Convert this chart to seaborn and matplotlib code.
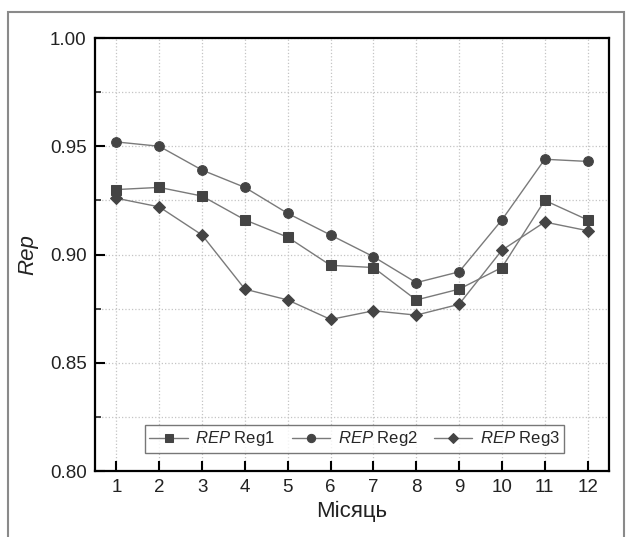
import matplotlib
matplotlib.use("Agg")
import matplotlib.pyplot as plt
from matplotlib.patches import Rectangle
from matplotlib.ticker import MultipleLocator
import seaborn as sns

# values
months = [1, 2, 3, 4, 5, 6, 7, 8, 9, 10, 11, 12]
reg1 = [0.930, 0.931, 0.927, 0.916, 0.908, 0.895, 0.894, 0.879, 0.884, 0.894, 0.925, 0.916]
reg2 = [0.952, 0.950, 0.939, 0.931, 0.919, 0.909, 0.899, 0.887, 0.892, 0.916, 0.944, 0.943]
reg3 = [0.926, 0.922, 0.909, 0.884, 0.879, 0.870, 0.874, 0.872, 0.877, 0.902, 0.915, 0.911]
labels = [r"$\mathit{REP}$ Reg1", r"$\mathit{REP}$ Reg2", r"$\mathit{REP}$ Reg3"]

sns.set_style("white")
plt.rcParams["font.family"] = ["Liberation Sans", "DejaVu Sans"]
plt.rcParams["mathtext.fontset"] = "custom"
plt.rcParams["mathtext.it"] = "Liberation Sans:italic"
plt.rcParams["mathtext.rm"] = "Liberation Sans"

fig = plt.figure(figsize=(6.27, 5.37), dpi=100)
ax = fig.add_axes([0.1515, 0.1229, 0.8198, 0.8063])

# outer frame of the picture
fig.patches.append(Rectangle((8 / 627, -0.01), 616 / 627, 1 - 12 / 537 + 0.01,
                             transform=fig.transFigure, fill=False,
                             edgecolor="#8a8a8a", linewidth=1.5))

line_col = "#7a7a7a"
mark_col = "#444444"
for vals, mk, ms, lab in zip([reg1, reg2, reg3], ["s", "o", "D"], [6.5, 7, 6.5], labels):
    sns.lineplot(x=months, y=vals, ax=ax, color=line_col, marker=mk,
                 markersize=ms, markerfacecolor=mark_col, markeredgecolor=mark_col,
                 linewidth=1.0, label=lab)

ax.set_xlim(0.5, 12.5)
ax.set_ylim(0.80, 1.00)
ax.set_xticks(months)
ax.yaxis.set_major_locator(MultipleLocator(0.05))
ax.yaxis.set_minor_locator(MultipleLocator(0.025))
ax.yaxis.set_major_formatter(matplotlib.ticker.FormatStrFormatter("%.2f"))

ax.grid(True, which="major", axis="x", linestyle=":", color="#c4c4c4", linewidth=0.9)
ax.grid(True, which="both", axis="y", linestyle=":", color="#c4c4c4", linewidth=0.9)
ax.set_axisbelow(True)

for s in ax.spines.values():
    s.set_color("black")
    s.set_linewidth(1.6)

ax.tick_params(axis="both", which="major", direction="in", length=7, width=1.5,
               labelsize=13.5, colors="black", bottom=True, left=True, pad=6)
ax.tick_params(axis="both", labelcolor="#222222")
ax.tick_params(axis="y", which="minor", direction="in", length=4, width=1.2, left=True)

ax.set_xlabel("Місяць", fontsize=16, labelpad=3, color="#222222")
ax.set_ylabel("Rep", fontsize=16, fontstyle="italic", labelpad=8, color="#222222")

leg = ax.legend(loc="lower center", bbox_to_anchor=(0.505, 0.035), ncol=3,
                fontsize=12, frameon=True, fancybox=False, edgecolor="#555555",
                handlelength=2.3, columnspacing=1.0, borderpad=0.25,
                handletextpad=0.45, markerscale=0.85, borderaxespad=0.2)
leg.get_frame().set_linewidth(1.0)

fig.savefig("out.png", dpi=100)
